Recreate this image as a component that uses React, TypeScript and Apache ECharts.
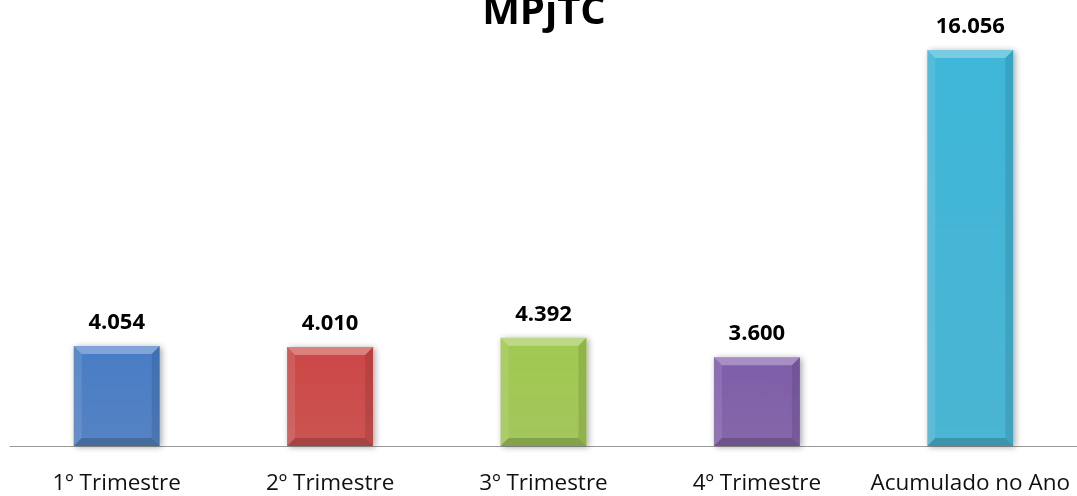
import React, { useEffect, useRef } from "react";
import * as echarts from "echarts";

const categories = ["1º Trimestre", "2º Trimestre", "3º Trimestre", "4º Trimestre", "Acumulado no Ano"];
const values = [4054, 4010, 4392, 3600, 16056];
const colors = ["#4779be", "#c64644", "#9bc24d", "#7b5aa3", "#3cafd0"];
const title = "MPjTC";

const fmt = (v: number) => v.toLocaleString("de-DE");

export default function App() {
  const ref = useRef<HTMLDivElement>(null);
  useEffect(() => {
    if (!ref.current) return;
    const chart = echarts.init(ref.current, null, { renderer: "svg" });
    const font = "'Open Sans', sans-serif";
    chart.setOption({
      animation: false,
      grid: { left: 10, right: 0, top: 2, bottom: 50 },
      xAxis: {
        type: "category",
        data: categories,
        axisLine: { lineStyle: { color: "#9a9a9a", width: 1 } },
        axisTick: { show: false },
        axisLabel: { color: "#111", fontSize: 22.5, fontFamily: font, margin: 24, interval: 0, lineHeight: 22 },
      },
      yAxis: { type: "value", min: 0, max: 18000, show: false, splitLine: { show: false } },
      graphic: [
        {
          type: "text",
          x: 544,
          y: -12,
          style: { text: title, font: `bold 40px ${font}`, fill: "#000", align: "center", verticalAlign: "top" },
        },
      ],
      series: [
        {
          type: "custom",
          data: values.map((v, i) => [i, v]),
          renderItem: (params: any, api: any) => {
            const idx = api.value(0);
            const val = api.value(1);
            const top = api.coord([idx, val]);
            const base = api.coord([idx, 0]);
            const w = api.size([1, 0])[0] * 0.403;
            const x0 = top[0] - w / 2;
            const x1 = top[0] + w / 2;
            const y0 = top[1];
            const y1 = base[1];
            const b = 8;
            const c = colors[idx];
            return {
              type: "group",
              children: [
                {
                  type: "rect",
                  shape: { x: x0, y: y0, width: w, height: y1 - y0 },
                  style: {
                    fill: new echarts.graphic.LinearGradient(0, 0, 0, 1, [
                      { offset: 0, color: echarts.color.lift(c, -0.04) },
                      { offset: 1, color: echarts.color.lift(c, 0.08) },
                    ]),
                    shadowBlur: 6,
                    shadowColor: "rgba(0,0,0,0.35)",
                    shadowOffsetX: 2,
                    shadowOffsetY: 1,
                  },
                },
                {
                  type: "polygon",
                  shape: { points: [[x0, y0], [x1, y0], [x1 - b, y0 + b], [x0 + b, y0 + b]] },
                  style: { fill: "rgba(255,255,255,0.3)" },
                },
                {
                  type: "polygon",
                  shape: { points: [[x0, y0], [x0 + b, y0 + b], [x0 + b, y1 - b], [x0, y1]] },
                  style: { fill: "rgba(255,255,255,0.1)" },
                },
                {
                  type: "polygon",
                  shape: { points: [[x1, y0], [x1, y1], [x1 - b, y1 - b], [x1 - b, y0 + b]] },
                  style: { fill: "rgba(0,0,0,0.1)" },
                },
                {
                  type: "polygon",
                  shape: { points: [[x0, y1], [x0 + b, y1 - b], [x1 - b, y1 - b], [x1, y1]] },
                  style: { fill: "rgba(0,0,0,0.18)" },
                },
                {
                  type: "text",
                  x: top[0],
                  y: y0 - 26,
                  style: {
                    text: fmt(val),
                    font: `bold 22px ${font}`,
                    fill: "#000",
                    align: "center",
                    verticalAlign: "middle",
                  },
                },
              ],
            };
          },
        },
      ],
    });
    return () => chart.dispose();
  }, []);
  return <div ref={ref} style={{ position: "fixed", left: 0, top: 0, width: 1077, height: 496 }} />;
}
